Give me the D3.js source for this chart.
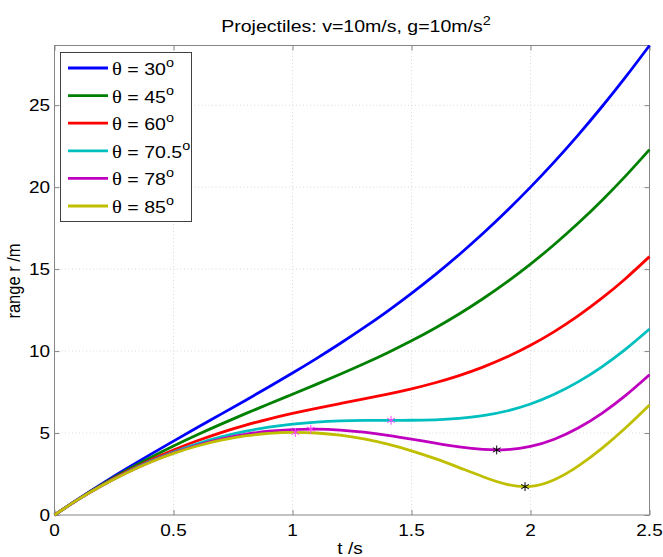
<!DOCTYPE html>
<html>
<head>
<meta charset="utf-8">
<script src="https://cdn.jsdelivr.net/npm/d3@7/dist/d3.min.js"></script>
<style>
  html, body { margin: 0; padding: 0; background: #fff; }
  svg { display: block; }
  text { font-family: "Liberation Sans", Arial, sans-serif; fill: #000; }
</style>
</head>
<body>
<svg id="chart" width="663" height="557"></svg>
<script>
// ---- data ----
const times = [0,0.1,0.2,0.3,0.4,0.5,0.6,0.7,0.8,0.9,1.0,1.1,1.2,1.3,1.4,1.5,1.6,1.7,1.8,1.9,2.0,2.1,2.2,2.3,2.4,2.5];
const angles = ["30", "45", "60", "70.5", "78", "85"];
const r30 = [0,0.976,1.908,2.802,3.666,4.507,5.333,6.152,6.974,7.807,8.660,9.542,10.462,11.426,12.443,13.521,14.664,15.880,17.171,18.543,20.000,21.544,23.178,24.905,26.725,28.641];
const r45 = [0,0.965,1.864,2.701,3.481,4.210,4.896,5.545,6.167,6.772,7.368,7.968,8.582,9.222,9.900,10.626,11.411,12.264,13.193,14.206,15.307,16.503,17.796,19.190,20.687,22.287];
const r60 = [0,0.957,1.830,2.620,3.331,3.967,4.531,5.030,5.468,5.854,6.197,6.507,6.796,7.081,7.376,7.699,8.069,8.504,9.021,9.633,10.353,11.188,12.145,13.225,14.431,15.761];
const r705 = [0,0.953,1.813,2.580,3.257,3.844,4.345,4.761,5.097,5.356,5.544,5.669,5.740,5.771,5.778,5.781,5.808,5.889,6.057,6.344,6.774,7.364,8.119,9.038,10.116,11.344];
const r78 = [0,0.951,1.805,2.562,3.222,3.786,4.256,4.632,4.915,5.108,5.214,5.236,5.178,5.050,4.862,4.630,4.381,4.152,3.998,3.986,4.181,4.620,5.302,6.204,7.297,8.556];
const r85 = [0,0.950,1.801,2.552,3.204,3.756,4.210,4.564,4.820,4.978,5.038,5.001,4.868,4.641,4.322,3.917,3.435,2.893,2.337,1.874,1.745,2.151,2.982,4.066,5.320,6.709];
const seriesValues = [r30, r45, r60, r705, r78, r85];
// turning points marked with asterisks: [t, r]
const maxPoints = [[1.012, 5.039], [1.077, 5.237], [1.414, 5.778]];
const minPoints = [[1.858, 3.969], [1.977, 1.730]];
const xTicks = [0, 0.5, 1, 1.5, 2, 2.5];
const xTickLabels = ["0", "0.5", "1", "1.5", "2", "2.5"];
const yTicks = [0, 5, 10, 15, 20, 25];
const yTickLabels = ["0", "5", "10", "15", "20", "25"];
const colors = ["#0000ff", "#008000", "#ff0000", "#00bfbf", "#bf00bf", "#bfbf00"];

// ---- layout ----
const L = 54.5, R = 649.5, T = 45.5, B = 515;
const SX = 1.15; // horizontal stretch of the text in the reference
const svg = d3.select("#chart");
const x = d3.scaleLinear().domain([0, 2.5]).range([L, R]);
const y = d3.scaleLinear().domain([0, 28.641]).range([B, T]);

function label(parent, px, py, anchor, size) {
  return parent.append("text")
    .attr("transform", `translate(${px},${py}) scale(${SX},1)`)
    .attr("text-anchor", anchor).style("font-size", size + "px");
}

// grid
const grid = svg.append("g");
grid.selectAll("line.gx").data(xTicks.slice(1, -1)).join("line")
  .attr("x1", d => x(d)).attr("x2", d => x(d)).attr("y1", T).attr("y2", B)
  .attr("stroke", "#cfcfcf").attr("stroke-width", 0.8).attr("stroke-dasharray", "1,2.5");
grid.selectAll("line.gy").data(yTicks.slice(1)).join("line")
  .attr("x1", L).attr("x2", R).attr("y1", d => y(d)).attr("y2", d => y(d))
  .attr("stroke", "#cfcfcf").attr("stroke-width", 0.8).attr("stroke-dasharray", "1,2.5");

// axes (inward ticks, box)
const axisColor = "#868686";
const gx = svg.append("g").attr("transform", `translate(0,${B})`)
  .call(d3.axisBottom(x).tickValues(xTicks).tickFormat("").tickSizeInner(-5).tickSizeOuter(0));
const gxt = svg.append("g").attr("transform", `translate(0,${T})`)
  .call(d3.axisTop(x).tickValues(xTicks).tickFormat("").tickSizeInner(-5).tickSizeOuter(0));
const gy = svg.append("g").attr("transform", `translate(${L},0)`)
  .call(d3.axisLeft(y).tickValues(yTicks).tickFormat("").tickSizeInner(-5).tickSizeOuter(0));
const gyr = svg.append("g").attr("transform", `translate(${R},0)`)
  .call(d3.axisRight(y).tickValues(yTicks).tickFormat("").tickSizeInner(-5).tickSizeOuter(0));
[gx, gxt, gy, gyr].forEach(g => {
  g.select(".domain").remove();
  g.selectAll(".tick line").attr("stroke", axisColor);
});
svg.append("rect").attr("x", L).attr("y", T).attr("width", R - L).attr("height", B - T)
  .attr("fill", "none").attr("stroke", axisColor).attr("stroke-width", 1);

// tick labels
const tl = svg.append("g");
xTicks.forEach((v, i) => label(tl, x(v), 536, "middle", 16.5).text(xTickLabels[i]));
yTicks.forEach((v, i) => label(tl, 50, y(v) + 6, "end", 16.5).text(yTickLabels[i]));

// lines
const line = d3.line().x(d => x(d[0])).y(d => y(d[1])).curve(d3.curveNatural);
const plot = svg.append("g");
seriesValues.forEach((vals, i) => {
  plot.append("path")
    .datum(times.map((t, k) => [t, vals[k]]))
    .attr("fill", "none").attr("stroke", colors[i]).attr("stroke-width", 2.8)
    .attr("stroke-linejoin", "round").attr("d", line);
});

// markers
const star = d3.symbol().type(d3.symbolAsterisk).size(55);
plot.selectAll("path.mx").data(maxPoints).join("path")
  .attr("transform", d => `translate(${x(d[0])},${y(d[1])})`)
  .attr("d", star).attr("fill", "none").attr("stroke", "#ff40ff").attr("stroke-width", 1);
plot.selectAll("path.mn").data(minPoints).join("path")
  .attr("transform", d => `translate(${x(d[0])},${y(d[1])})`)
  .attr("d", star).attr("fill", "none").attr("stroke", "#000").attr("stroke-width", 1);

// legend
const lg = svg.append("g");
lg.append("rect").attr("x", 60.5).attr("y", 52.5).attr("width", 131).attr("height", 169)
  .attr("fill", "#fff").attr("stroke", "#404040").attr("stroke-width", 1);
angles.forEach((a, i) => {
  const cy = 68 + i * 27.6;
  lg.append("line").attr("x1", 68).attr("x2", 108).attr("y1", cy).attr("y2", cy)
    .attr("stroke", colors[i]).attr("stroke-width", 2.8);
  const t = label(lg, 112, cy + 7, "start", 17);
  t.append("tspan").text("θ").style("font-family", "'Liberation Serif', 'DejaVu Serif', serif").style("font-size", "18px");
  t.append("tspan").text(" = " + a);
  t.append("tspan").text("o").attr("dy", -8).style("font-size", "12.5px");
});

// title and labels
const title = label(svg, 356, 32, "middle", 17);
title.append("tspan").text("Projectiles: v=10m/s, g=10m/s");
title.append("tspan").text("2").attr("dy", -7).style("font-size", "12.5px");
label(svg, 350, 554, "middle", 16.5).text("t /s");
svg.append("text").attr("transform", `translate(20,281) scale(${SX},1) rotate(-90)`).attr("text-anchor", "middle")
  .style("font-size", "16.5px").text("range r /m");
</script>
</body>
</html>
